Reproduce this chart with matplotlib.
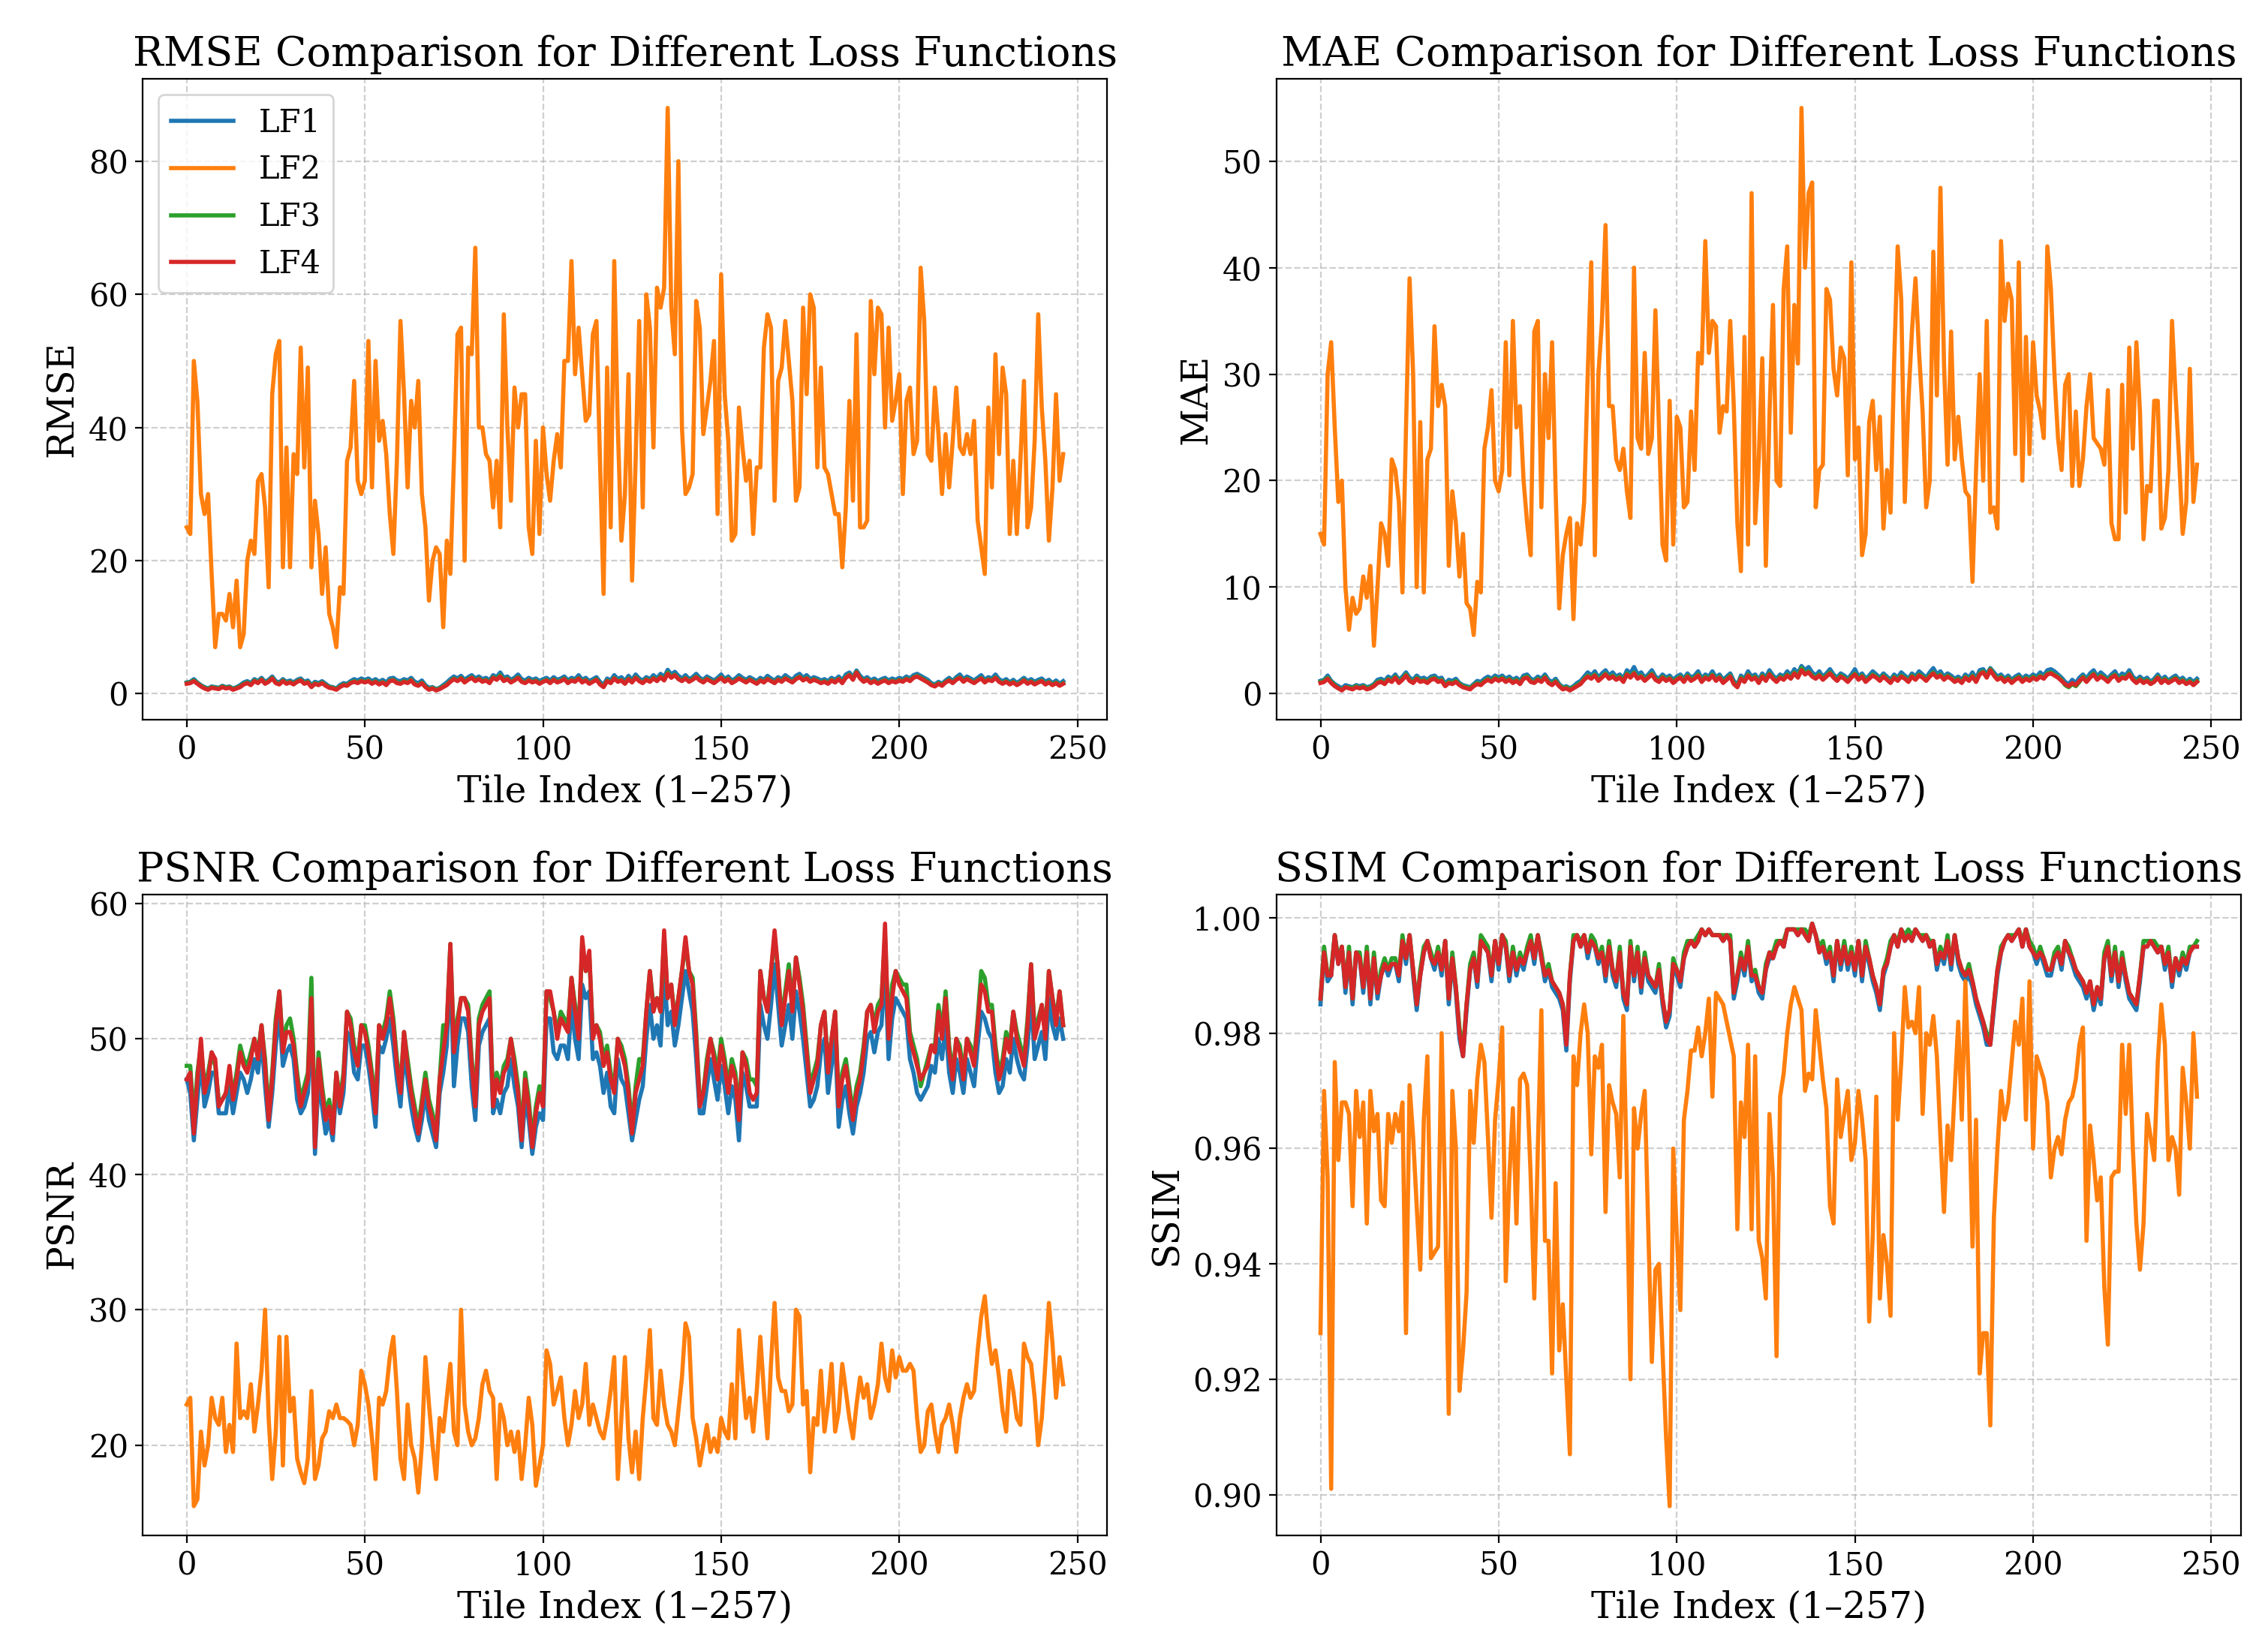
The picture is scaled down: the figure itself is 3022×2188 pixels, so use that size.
import numpy as np
import matplotlib
matplotlib.use('Agg')
import matplotlib.pyplot as plt

# ---- Data: per-tile metrics for the four loss functions ----

labels = ['LF1', 'LF2', 'LF3', 'LF4']
colors = ['tab:blue', 'tab:orange', 'tab:green', 'tab:red']

rmse_lf1 = [
    1.7, 1.8, 2.2, 1.7, 1.3, 1.0, 0.8, 1.1, 1.0, 0.9,
    1.2, 1.0, 1.1, 0.8, 1.0, 1.3, 1.7, 1.9, 1.6, 2.2,
    1.9, 2.4, 1.8, 2.1, 2.6, 1.9, 1.7, 2.2, 1.8, 2.0,
    1.7, 2.1, 2.3, 1.8, 2.0, 1.3, 1.8, 1.6, 1.9, 1.5,
    1.1, 1.0, 0.8, 1.3, 1.6, 1.5, 1.9, 2.2, 2.0, 2.3,
    2.1, 2.3, 1.9, 2.2, 1.8, 2.1, 1.7, 2.3, 2.4, 2.0,
    1.9, 2.2, 2.0, 2.4, 1.8, 1.6, 2.0, 1.3, 0.9, 1.0,
    0.7, 0.9, 1.3, 1.7, 2.2, 2.6, 2.3, 2.7, 2.1, 2.5,
    2.8, 2.3, 2.6, 2.2, 2.4, 2.0, 2.8, 2.5, 3.2, 2.4,
    2.6, 2.1, 2.4, 2.9, 2.2, 2.0, 2.4, 2.1, 2.3, 1.9,
    2.2, 2.4, 2.0, 2.5, 2.1, 2.3, 2.6, 2.0, 2.4, 2.2,
    2.8, 2.1, 2.4, 1.9, 2.2, 2.5, 1.8, 1.3, 2.3, 2.0,
    2.8, 2.2, 2.5, 1.9, 2.7, 2.1, 2.9, 2.3, 2.0, 2.5,
    2.2, 2.8, 2.3, 3.0, 2.5, 3.6, 2.9, 3.3, 2.7, 2.3,
    2.8, 2.2, 2.5, 3.0, 2.4, 2.1, 2.6, 2.3, 2.0, 2.4,
    2.9, 2.2, 2.6, 2.0, 2.3, 2.8, 2.4, 2.1, 2.5, 2.2,
    1.9, 2.4, 2.1, 2.7, 2.3, 2.0, 2.5, 2.2, 2.8, 2.4,
    2.1, 2.7, 3.0, 2.4, 2.8, 2.2, 2.5, 2.3, 2.0, 2.2,
    1.9, 2.4, 2.1, 2.6, 2.0, 2.9, 3.2, 2.5, 3.5, 2.7,
    2.2, 2.5, 2.0, 2.3, 1.9, 2.2, 2.4, 2.0, 2.3, 2.1,
    2.4, 2.2, 2.6, 2.3, 2.8, 3.0, 2.7, 2.4, 2.1, 1.6,
    1.4, 1.8, 1.5, 2.0, 2.4, 1.9, 2.5, 2.9, 2.2, 2.6,
    2.3, 2.0, 2.4, 2.8, 2.1, 2.5, 2.3, 2.9, 2.2, 1.9,
    2.2, 1.7, 2.1, 1.6, 2.0, 2.4, 1.9, 2.2, 1.8, 2.1,
    2.3, 1.8, 2.1, 1.6, 2.0, 1.5, 1.9]

rmse_lf2 = [
    25, 24, 50, 44, 30, 27, 30, 18, 7, 12,
    12, 11, 15, 10, 17, 7, 9, 20, 23, 21,
    32, 33, 28, 16, 45, 51, 53, 19, 37, 19,
    36, 33, 52, 34, 49, 19, 29, 24, 15, 22,
    12, 10, 7, 16, 15, 35, 37, 47, 32, 30,
    32, 53, 31, 50, 38, 41, 36, 27, 21, 35,
    56, 45, 31, 44, 40, 47, 30, 25, 14, 20,
    22, 21, 10, 23, 18, 35, 54, 55, 20, 52,
    51, 67, 40, 40, 36, 35, 28, 35, 25, 57,
    40, 29, 46, 40, 45, 45, 25, 21, 38, 24,
    40, 33, 29, 35, 39, 34, 50, 50, 65, 48,
    55, 48, 41, 42, 54, 56, 35, 15, 49, 25,
    65, 40, 23, 30, 48, 17, 35, 56, 28, 60,
    55, 37, 61, 58, 61, 88, 58, 51, 80, 40,
    30, 31, 33, 59, 55, 39, 43, 47, 53, 27,
    63, 45, 38, 23, 24, 43, 37, 32, 35, 24,
    34, 34, 52, 57, 55, 29, 47, 49, 56, 50,
    44, 29, 31, 58, 45, 60, 58, 34, 49, 34,
    33, 30, 27, 27, 19, 28, 44, 29, 54, 25,
    25, 26, 59, 48, 58, 57, 40, 55, 41, 44,
    48, 30, 44, 46, 36, 38, 64, 56, 36, 35,
    46, 39, 30, 39, 31, 38, 46, 37, 36, 39,
    36, 41, 26, 22, 18, 43, 31, 51, 36, 49,
    45, 24, 35, 24, 35, 47, 25, 28, 38, 57,
    43, 35, 23, 31, 45, 32, 36]

rmse_lf3 = [
    1.6, 1.7, 2.0, 1.6, 1.2, 0.9, 0.7, 1.0, 0.9, 0.8,
    1.1, 0.9, 1.0, 0.7, 0.9, 1.1, 1.5, 1.7, 1.4, 2.0,
    1.7, 2.2, 1.6, 1.9, 2.4, 1.7, 1.5, 2.0, 1.6, 1.8,
    1.5, 1.9, 2.1, 1.6, 1.8, 1.1, 1.6, 1.4, 1.7, 1.3,
    1.0, 0.9, 0.7, 1.1, 1.4, 1.3, 1.7, 1.9, 1.7, 2.0,
    1.8, 2.0, 1.6, 1.9, 1.5, 1.8, 1.4, 2.0, 2.1, 1.7,
    1.6, 1.9, 1.7, 2.1, 1.5, 1.3, 1.7, 1.1, 0.7, 0.9,
    0.6, 0.8, 1.1, 1.4, 1.9, 2.3, 2.0, 2.4, 1.8, 2.2,
    2.5, 2.0, 2.3, 1.9, 2.1, 1.7, 2.5, 2.2, 2.8, 2.0,
    2.3, 1.8, 2.1, 2.5, 1.9, 1.7, 2.1, 1.8, 2.0, 1.6,
    1.9, 2.1, 1.7, 2.2, 1.8, 2.0, 2.3, 1.7, 2.1, 1.9,
    2.4, 1.8, 2.1, 1.6, 1.9, 2.2, 1.5, 1.1, 2.0, 1.7,
    2.4, 1.9, 2.1, 1.6, 2.3, 1.8, 2.5, 2.0, 1.7, 2.2,
    1.9, 2.4, 2.0, 2.6, 2.1, 3.2, 2.5, 2.9, 2.3, 2.0,
    2.4, 1.9, 2.2, 2.6, 2.1, 1.8, 2.3, 2.0, 1.7, 2.1,
    2.5, 1.9, 2.3, 1.7, 2.0, 2.4, 2.1, 1.8, 2.2, 1.9,
    1.6, 2.1, 1.8, 2.3, 2.0, 1.7, 2.2, 1.9, 2.4, 2.1,
    1.8, 2.3, 2.6, 2.1, 2.4, 1.9, 2.2, 2.0, 1.7, 1.9,
    1.6, 2.1, 1.8, 2.3, 1.7, 2.5, 2.9, 2.2, 3.3, 2.4,
    1.9, 2.2, 1.7, 2.0, 1.6, 1.9, 2.1, 1.7, 2.0, 1.8,
    2.1, 1.9, 2.3, 2.0, 2.5, 2.7, 2.4, 2.1, 1.8, 1.4,
    1.2, 1.6, 1.3, 1.8, 2.1, 1.7, 2.2, 2.5, 1.9, 2.3,
    2.0, 1.7, 2.1, 2.4, 1.8, 2.2, 2.0, 2.5, 1.9, 1.6,
    1.9, 1.5, 1.8, 1.4, 1.7, 2.1, 1.6, 1.9, 1.5, 1.8,
    2.0, 1.5, 1.8, 1.4, 1.7, 1.3, 1.6]

rmse_lf4 = [
    1.5, 1.6, 1.9, 1.5, 1.1, 0.8, 0.6, 0.9, 0.8, 0.7,
    1.0, 0.8, 0.9, 0.6, 0.8, 1.0, 1.4, 1.6, 1.3, 1.9,
    1.6, 2.1, 1.5, 1.8, 2.3, 1.6, 1.4, 1.9, 1.5, 1.7,
    1.4, 1.8, 2.0, 1.5, 1.7, 1.0, 1.5, 1.3, 1.6, 1.2,
    0.9, 0.8, 0.6, 1.0, 1.3, 1.2, 1.6, 1.8, 1.6, 1.9,
    1.7, 1.9, 1.5, 1.8, 1.4, 1.7, 1.3, 1.9, 2.0, 1.6,
    1.5, 1.8, 1.6, 2.0, 1.4, 1.2, 1.6, 1.0, 0.6, 0.8,
    0.5, 0.7, 1.0, 1.3, 1.8, 2.2, 1.9, 2.3, 1.7, 2.1,
    2.4, 1.9, 2.2, 1.8, 2.0, 1.6, 2.4, 2.1, 2.6, 1.9,
    2.2, 1.7, 2.0, 2.4, 1.8, 1.6, 2.0, 1.7, 1.9, 1.5,
    1.8, 2.0, 1.6, 2.1, 1.7, 1.9, 2.2, 1.6, 2.0, 1.8,
    2.3, 1.7, 2.0, 1.5, 1.8, 2.1, 1.4, 1.0, 1.9, 1.6,
    2.3, 1.8, 2.0, 1.5, 2.2, 1.7, 2.4, 1.9, 1.6, 2.1,
    1.8, 2.3, 1.9, 2.5, 2.0, 3.0, 2.4, 2.8, 2.2, 1.9,
    2.3, 1.8, 2.1, 2.5, 2.0, 1.7, 2.2, 1.9, 1.6, 2.0,
    2.4, 1.8, 2.2, 1.6, 1.9, 2.3, 2.0, 1.7, 2.1, 1.8,
    1.5, 2.0, 1.7, 2.2, 1.9, 1.6, 2.1, 1.8, 2.3, 2.0,
    1.7, 2.2, 2.5, 2.0, 2.3, 1.8, 2.1, 1.9, 1.6, 1.8,
    1.5, 2.0, 1.7, 2.2, 1.6, 2.4, 2.8, 2.1, 3.2, 2.3,
    1.8, 2.1, 1.6, 1.9, 1.5, 1.8, 2.0, 1.6, 1.9, 1.7,
    2.0, 1.8, 2.2, 1.9, 2.4, 2.6, 2.3, 2.0, 1.7, 1.3,
    1.1, 1.5, 1.2, 1.7, 2.0, 1.6, 2.1, 2.4, 1.8, 2.2,
    1.9, 1.6, 2.0, 2.3, 1.7, 2.1, 1.9, 2.4, 1.8, 1.5,
    1.8, 1.4, 1.7, 1.3, 1.6, 2.0, 1.5, 1.8, 1.4, 1.7,
    1.9, 1.4, 1.7, 1.3, 1.6, 1.2, 1.5]

mae_lf1 = [
    1.2, 1.3, 1.7, 1.2, 0.9, 0.7, 0.5, 0.8, 0.7, 0.6,
    0.8, 0.7, 0.8, 0.6, 0.7, 0.9, 1.3, 1.4, 1.2, 1.6,
    1.4, 1.8, 1.3, 1.6, 2.0, 1.5, 1.3, 1.7, 1.4, 1.5,
    1.3, 1.6, 1.7, 1.4, 1.5, 0.9, 1.3, 1.2, 1.4, 1.0,
    0.8, 0.7, 0.6, 0.9, 1.2, 1.1, 1.4, 1.6, 1.4, 1.7,
    1.5, 1.7, 1.4, 1.6, 1.3, 1.5, 1.2, 1.7, 1.8, 1.4,
    1.3, 1.6, 1.4, 1.8, 1.3, 1.1, 1.4, 0.9, 0.6, 0.7,
    0.5, 0.7, 1.0, 1.2, 1.6, 2.0, 1.7, 2.1, 1.5, 1.9,
    2.2, 1.7, 2.0, 1.6, 1.8, 1.4, 2.2, 1.9, 2.5, 1.8,
    2.0, 1.5, 1.8, 2.2, 1.6, 1.4, 1.8, 1.5, 1.7, 1.3,
    1.6, 1.8, 1.4, 1.9, 1.5, 1.7, 2.1, 1.4, 1.8, 1.6,
    2.1, 1.5, 1.8, 1.3, 1.6, 1.9, 1.2, 0.8, 1.7, 1.4,
    2.1, 1.6, 1.8, 1.3, 1.9, 1.5, 2.2, 1.7, 1.4, 1.8,
    1.6, 2.1, 1.7, 2.3, 1.9, 2.6, 2.2, 2.5, 2.0, 1.7,
    2.1, 1.6, 1.9, 2.3, 1.8, 1.5, 1.9, 1.7, 1.4, 1.8,
    2.3, 1.6, 1.9, 1.4, 1.7, 2.1, 1.8, 1.5, 1.9, 1.6,
    1.3, 1.8, 1.5, 2.0, 1.7, 1.4, 1.9, 1.6, 2.1, 1.8,
    1.5, 2.0, 2.4, 1.8, 2.1, 1.6, 1.9, 1.7, 1.4, 1.6,
    1.3, 1.8, 1.5, 2.0, 1.4, 2.2, 2.3, 1.8, 2.4, 2.0,
    1.6, 1.8, 1.4, 1.7, 1.3, 1.6, 1.8, 1.4, 1.7, 1.5,
    1.8, 1.6, 2.0, 1.7, 2.2, 2.3, 2.1, 1.8, 1.5, 1.1,
    0.9, 1.3, 1.0, 1.5, 1.8, 1.4, 1.9, 2.2, 1.6, 2.0,
    1.7, 1.4, 1.8, 2.1, 1.5, 1.9, 1.7, 2.2, 1.6, 1.3,
    1.6, 1.3, 1.5, 1.1, 1.4, 1.8, 1.3, 1.6, 1.2, 1.5,
    1.7, 1.3, 1.5, 1.1, 1.4, 1.1, 1.4]

mae_lf2 = [
    15, 14, 30, 33, 25, 18, 20, 10, 6, 9,
    7.5, 8, 11, 9, 12, 4.5, 10, 16, 15, 12,
    22, 21, 18, 9.5, 25, 39, 30, 10, 25.5, 9.5,
    22, 23, 34.5, 27, 29, 27, 12, 19, 16, 11,
    15, 8.5, 8, 5.5, 10.5, 9.5, 23, 25, 28.5, 20,
    19, 21, 33, 20.5, 35, 25, 27, 20, 16, 13,
    34, 35, 17.5, 30, 24, 33, 19, 8, 13, 15,
    16.5, 7, 16, 14, 18, 30, 40.5, 13, 30, 35,
    44, 27, 27, 22, 21, 23, 19, 16.5, 40, 24,
    23, 32, 22.5, 24, 36, 25, 14, 12.5, 27.5, 14,
    26, 25, 17.5, 18, 26.5, 21, 32, 31, 42.5, 32,
    35, 34.5, 24.5, 27, 26.5, 35, 27, 16, 11.5, 33.5,
    14, 47, 16, 22, 31.5, 12, 26, 36.5, 20, 19.5,
    38, 42, 24.5, 36.5, 31, 55, 40, 47, 48, 17.5,
    21, 21.5, 38, 37, 30.5, 28, 32.5, 31.5, 20.5, 40.5,
    22, 25, 13, 15, 25.5, 27.5, 21, 26, 15.5, 21,
    17, 31, 42, 37, 18, 27.5, 34, 39, 32, 26.5,
    17.5, 20, 41.5, 28, 47.5, 31, 21.5, 34, 22, 26,
    22, 19, 18.5, 10.5, 21, 30, 20, 35, 17, 17.5,
    15.5, 42.5, 35, 38.5, 37, 22.5, 40.5, 20, 33.5, 22.5,
    33, 28, 26.5, 24, 42, 38, 30, 24, 21, 29,
    30, 19.5, 26.5, 19.5, 22, 27, 30, 24, 23.5, 23,
    21.5, 28.5, 16, 14.5, 14.5, 29, 17, 32.5, 23, 33,
    26.5, 14.5, 19.5, 19, 27.5, 27.5, 15.5, 16.5, 21, 35,
    28, 22, 15, 18, 30.5, 18, 21.5]

mae_lf3 = [
    1.1, 1.2, 1.5, 1.1, 0.8, 0.5, 0.4, 0.6, 0.6, 0.5,
    0.7, 0.5, 0.7, 0.5, 0.6, 0.8, 1.1, 1.2, 1.0, 1.4,
    1.2, 1.6, 1.1, 1.4, 1.8, 1.3, 1.1, 1.5, 1.2, 1.3,
    1.1, 1.4, 1.5, 1.2, 1.3, 0.8, 1.1, 1.0, 1.2, 0.9,
    0.7, 0.6, 0.5, 0.8, 1.0, 0.9, 1.2, 1.4, 1.2, 1.5,
    1.3, 1.5, 1.2, 1.4, 1.1, 1.3, 1.0, 1.5, 1.6, 1.2,
    1.1, 1.4, 1.2, 1.6, 1.1, 0.9, 1.2, 0.8, 0.5, 0.6,
    0.4, 0.6, 0.8, 1.0, 1.4, 1.7, 1.5, 1.8, 1.3, 1.6,
    1.9, 1.5, 1.7, 1.4, 1.6, 1.2, 1.9, 1.6, 2.0, 1.5,
    1.7, 1.3, 1.6, 1.9, 1.4, 1.2, 1.6, 1.3, 1.5, 1.1,
    1.4, 1.6, 1.2, 1.7, 1.3, 1.5, 1.8, 1.2, 1.6, 1.4,
    1.8, 1.3, 1.6, 1.1, 1.4, 1.7, 1.0, 0.7, 1.5, 1.2,
    1.8, 1.4, 1.6, 1.1, 1.7, 1.3, 1.9, 1.5, 1.2, 1.6,
    1.4, 1.8, 1.5, 2.0, 1.6, 2.4, 1.9, 2.1, 1.7, 1.5,
    1.8, 1.4, 1.7, 2.0, 1.6, 1.3, 1.7, 1.5, 1.2, 1.6,
    1.9, 1.4, 1.7, 1.2, 1.5, 1.8, 1.6, 1.3, 1.7, 1.4,
    1.1, 1.6, 1.3, 1.7, 1.5, 1.2, 1.7, 1.4, 1.8, 1.6,
    1.3, 1.7, 2.0, 1.6, 1.8, 1.4, 1.7, 1.5, 1.2, 1.4,
    1.1, 1.6, 1.3, 1.7, 1.2, 1.9, 2.1, 1.6, 2.3, 1.8,
    1.4, 1.6, 1.2, 1.5, 1.1, 1.4, 1.6, 1.2, 1.5, 1.3,
    1.6, 1.4, 1.7, 1.5, 1.9, 2.0, 1.8, 1.6, 1.3, 0.8,
    0.6, 0.9, 0.7, 1.1, 1.6, 1.2, 1.6, 1.9, 1.4, 1.7,
    1.5, 1.2, 1.6, 1.8, 1.3, 1.6, 1.5, 1.9, 1.4, 1.1,
    1.4, 1.1, 1.3, 1.0, 1.2, 1.6, 1.1, 1.4, 1.1, 1.3,
    1.5, 1.1, 1.3, 1.0, 1.2, 0.9, 1.2]

mae_lf4 = [
    1.0, 1.1, 1.4, 1.0, 0.7, 0.5, 0.3, 0.6, 0.5, 0.4,
    0.6, 0.5, 0.6, 0.4, 0.5, 0.7, 1.0, 1.1, 0.9, 1.3,
    1.1, 1.5, 1.0, 1.3, 1.7, 1.2, 1.0, 1.4, 1.1, 1.2,
    1.0, 1.3, 1.4, 1.1, 1.2, 0.7, 1.0, 0.9, 1.1, 0.8,
    0.6, 0.5, 0.4, 0.7, 0.9, 0.8, 1.1, 1.3, 1.1, 1.4,
    1.2, 1.4, 1.1, 1.3, 1.0, 1.2, 0.9, 1.4, 1.5, 1.1,
    1.0, 1.3, 1.1, 1.5, 1.0, 0.8, 1.1, 0.7, 0.4, 0.5,
    0.3, 0.5, 0.7, 0.9, 1.3, 1.6, 1.4, 1.7, 1.2, 1.5,
    1.8, 1.4, 1.6, 1.3, 1.5, 1.1, 1.8, 1.5, 1.9, 1.4,
    1.6, 1.2, 1.5, 1.8, 1.3, 1.1, 1.5, 1.2, 1.4, 1.0,
    1.3, 1.5, 1.1, 1.6, 1.2, 1.4, 1.7, 1.1, 1.5, 1.3,
    1.7, 1.2, 1.5, 1.0, 1.3, 1.6, 0.9, 0.6, 1.4, 1.1,
    1.7, 1.3, 1.5, 1.0, 1.6, 1.2, 1.8, 1.4, 1.1, 1.5,
    1.3, 1.7, 1.4, 1.9, 1.5, 2.2, 1.8, 2.0, 1.6, 1.4,
    1.7, 1.3, 1.6, 1.9, 1.5, 1.2, 1.6, 1.4, 1.1, 1.5,
    1.8, 1.3, 1.6, 1.1, 1.4, 1.7, 1.5, 1.2, 1.6, 1.3,
    1.0, 1.5, 1.2, 1.6, 1.4, 1.1, 1.6, 1.3, 1.7, 1.5,
    1.2, 1.6, 1.9, 1.5, 1.7, 1.3, 1.6, 1.4, 1.1, 1.3,
    1.0, 1.5, 1.2, 1.6, 1.1, 1.8, 2.0, 1.5, 2.2, 1.7,
    1.3, 1.5, 1.1, 1.4, 1.0, 1.3, 1.5, 1.1, 1.4, 1.2,
    1.5, 1.3, 1.6, 1.4, 1.8, 1.9, 1.7, 1.5, 1.2, 0.9,
    0.7, 1.0, 0.8, 1.2, 1.5, 1.1, 1.5, 1.8, 1.3, 1.6,
    1.4, 1.1, 1.5, 1.7, 1.2, 1.5, 1.4, 1.8, 1.3, 1.0,
    1.3, 1.0, 1.2, 0.9, 1.1, 1.5, 1.0, 1.3, 1.0, 1.2,
    1.4, 1.0, 1.2, 0.9, 1.1, 0.8, 1.1]

psnr_lf1 = [
    47, 46, 42.5, 45.5, 48.5, 45, 46, 47.5, 47.5, 44.5,
    44.5, 44.5, 46.5, 44.5, 46, 47.5, 47, 46, 47, 48.5,
    47.5, 50, 46.5, 43.5, 46, 49.5, 52, 48, 49, 49.5,
    48.5, 45.5, 44.5, 45, 46, 51.5, 41.5, 47, 45, 43,
    44, 42.5, 46.5, 44.5, 46, 50.5, 50, 47.5, 47, 49.5,
    49.5, 48, 46, 43.5, 49.5, 49, 50, 51.5, 49.5, 47,
    45, 49, 47, 45, 43.5, 42.5, 44, 46, 44, 43,
    42, 46, 47.5, 49.5, 55.5, 46.5, 49.5, 51.5, 51.5, 50.5,
    46.5, 44, 49.5, 50.5, 51, 51.5, 44.5, 45.5, 44.5, 46,
    46.5, 48.5, 46.5, 45, 42, 45.5, 44, 41.5, 43.5, 44.5,
    44, 51.5, 51.5, 49, 48.5, 49.5, 49.5, 48.5, 52.5, 50,
    48.5, 54, 53, 53.5, 48.5, 49, 48, 46, 47.5, 45,
    44.5, 48.5, 47, 46.5, 44.5, 42.5, 44, 45.5, 46.5, 50,
    52.5, 50, 51, 49.5, 55, 51, 52, 49.5, 51, 53,
    55, 53.5, 52, 48.5, 44.5, 44.5, 46.5, 48.5, 47, 45.5,
    48, 46.5, 44.5, 46.5, 45.5, 42.5, 47.5, 46.5, 45, 45,
    45, 52.5, 51, 50, 52.5, 55.5, 52.5, 49.5, 51, 52.5,
    50, 53.5, 52, 50, 47.5, 45, 45.5, 46.5, 49, 50,
    46, 48, 50, 43.5, 45.5, 46.5, 44.5, 43, 45, 46,
    47.5, 50, 50.5, 49, 50.5, 51, 55.5, 48.5, 51.5, 53,
    52.5, 52, 51.5, 48.5, 47.5, 46, 45.5, 46, 46.5, 48,
    47.5, 50, 48.5, 51, 47.5, 46, 48.5, 47.5, 46, 48.5,
    47.5, 46.5, 49.5, 52, 51.5, 50.5, 50, 47.5, 46, 46.5,
    48.5, 47.5, 50, 48.5, 47.5, 47, 49.5, 53, 48.5, 49.5,
    50.5, 48.5, 53, 51, 50, 51.5, 50]

psnr_lf2 = [
    23, 23.5, 15.5, 16, 21, 18.5, 20, 23.5, 22, 21.5,
    23.5, 19.5, 21.5, 19.5, 27.5, 22, 22.5, 22, 24.5, 21,
    23, 25.5, 30, 22, 17.5, 21, 28, 18.5, 28, 22.5,
    23.5, 19, 18, 17.2, 19, 24, 17.5, 18.5, 20.5, 21,
    22.5, 22, 23, 22, 22, 21.8, 21.5, 20, 21.5, 25.5,
    24.5, 23, 20.5, 17.5, 23.5, 23, 24, 26.5, 28, 24,
    19, 17.5, 23, 20, 19, 16.5, 20, 26.5, 23, 20,
    17.5, 22, 21, 23.5, 26, 21, 20, 30, 23, 21,
    20, 20.5, 22, 24.5, 25.5, 24, 23.5, 17.5, 23, 22,
    20, 21, 19.5, 21, 17.5, 20, 23.5, 21.5, 17, 18.5,
    20, 27, 26, 23, 24, 25, 22, 20, 21.5, 24,
    22, 23, 26, 21.5, 23, 22, 21, 20.5, 22, 24,
    26.5, 17.5, 22, 26.5, 20.5, 18, 21, 17.5, 22, 25,
    28.5, 22, 21.5, 25.5, 23, 21.5, 21, 20, 22.5, 25,
    29, 28, 22, 20.5, 18.5, 20, 21.5, 19.5, 20.5, 19.5,
    22, 21, 20.5, 24.5, 20.5, 28.5, 25, 22, 23.5, 21,
    24, 28, 24, 20.5, 26, 30.5, 25, 24, 24, 22.5,
    23, 30, 29.5, 23, 24, 18, 22, 21.5, 25.5, 21,
    23, 26, 21, 22.5, 26, 24, 22, 20.5, 23, 25,
    23.5, 24.5, 22, 23, 24.5, 27.5, 25, 24, 27, 25,
    26.5, 25.5, 25.5, 26, 25.5, 22, 19.5, 20, 22.5, 23,
    21, 19.5, 21.5, 22, 23, 21.5, 19.5, 22, 23.5, 24.5,
    23.5, 24, 27, 29.5, 31, 28, 26, 27, 25, 22.5,
    21, 25.5, 24, 22, 21.5, 27.5, 26.5, 26, 23.5, 20,
    22, 26, 30.5, 27.5, 23.5, 26.5, 24.5]

psnr_lf3 = [
    48, 48, 44, 47.5, 49.5, 46.5, 47.5, 49, 48, 45.5,
    45.5, 46, 47.5, 46, 47.5, 49.5, 48.5, 48, 49, 50,
    49, 51, 48.5, 44.5, 47.5, 51.5, 53.5, 49.5, 51, 51.5,
    50, 47.5, 45.5, 46.5, 47.5, 54.5, 43, 49, 46.5, 44.5,
    45.5, 43.5, 47.5, 45.5, 47.5, 52, 51.5, 49.5, 48.5, 51,
    51, 49.5, 47.5, 45, 51, 50.5, 51.5, 53.5, 51.5, 48.5,
    46.5, 50.5, 48.5, 46.5, 45, 43.5, 45.5, 47.5, 45.5, 44.5,
    43, 47, 51, 51, 57, 49.5, 51.5, 53, 53, 52.5,
    48.5, 45.5, 51.5, 52.5, 53, 53.5, 45.5, 47.5, 46.5, 48,
    48.5, 50, 48.5, 46.5, 43, 47.5, 45.5, 42.5, 45, 46.5,
    45.5, 53.5, 53, 52, 50.5, 52, 51.5, 51, 54.5, 52.5,
    50.5, 57, 55, 56, 50.5, 51, 50.5, 48.5, 49.5, 47.5,
    46.5, 50, 49.5, 48.5, 46.5, 43.5, 46.5, 48.5, 48.5, 52,
    55, 52.5, 53, 52, 57.5, 53, 54, 51.5, 53, 55,
    57, 55, 54.5, 50.5, 45.5, 46, 48.5, 50, 49, 47.5,
    50, 48.5, 46.5, 48.5, 47.5, 44.5, 49, 48.5, 47, 47,
    46.5, 55, 53, 52.5, 55, 57.5, 55, 51.5, 53.5, 55.5,
    52.5, 56, 54.5, 52.5, 49.5, 46.5, 47.5, 48.5, 51, 52,
    48, 50, 52, 45.5, 47.5, 48.5, 46.5, 44.5, 46.5, 47.5,
    49.5, 52, 52.5, 51, 52.5, 53, 57.5, 50.5, 54, 55,
    54.5, 54, 54, 50.5, 49.5, 48.5, 46.5, 47.5, 48.5, 49.5,
    49.5, 52.5, 50.5, 53.5, 49.5, 47.5, 50, 49.5, 47.5, 50,
    49.5, 48.5, 51.5, 55, 54.5, 52.5, 52.5, 49.5, 47.5, 48.5,
    50.5, 49.5, 52, 50.5, 49.5, 48.5, 51.5, 55.5, 50.5, 51.5,
    52.5, 50.5, 55, 53, 51.5, 53.5, 51]

psnr_lf4 = [
    47, 47.5, 43, 47, 50, 46, 47, 49, 48.5, 45,
    45.5, 46, 48, 45.5, 47, 49, 48, 47.5, 48.5, 50,
    48.5, 51, 48, 44, 47, 51, 53.5, 49, 50.5, 50.5,
    49.5, 47, 45, 46, 47, 53, 42, 48.5, 46, 44,
    45, 43, 47.5, 45, 47, 52, 51, 49, 48, 51,
    50.5, 49, 47, 44.5, 51, 50, 51, 53, 51, 48,
    46, 50.5, 48, 46, 44.5, 43, 45, 47, 45, 44,
    42.5, 47, 49, 51, 57, 49, 51, 53, 53, 52,
    48, 45, 51, 52, 52.5, 53, 45, 47, 46, 47.5,
    48, 50, 48, 46, 42.5, 47, 45, 42, 44.5, 46,
    45, 53.5, 53.5, 52, 50, 51.5, 51, 50.5, 54.5, 52,
    50, 57.5, 55, 56.5, 50, 51, 50, 48, 49, 47,
    46, 50, 49, 48, 46, 43, 46, 47, 48, 52,
    55, 52, 53, 52, 58, 53, 54, 51, 53, 55,
    57.5, 55, 54, 50, 45, 46, 48, 50, 48.5, 47,
    49.5, 48, 46, 48, 47, 44, 49, 48, 46, 45.5,
    46, 55, 53, 52, 55, 58, 55, 51, 53, 55,
    52, 56, 54, 52, 49, 46, 47, 48, 51, 52,
    47.5, 50, 52, 45, 47, 48, 46, 44, 46, 47,
    49, 52, 52.5, 50.5, 52, 52.5, 58.5, 50, 53, 55,
    54, 53.5, 53, 50, 49, 48, 47, 47.5, 48, 49.5,
    49, 52, 50, 53, 49, 47, 50, 49, 47, 50,
    49, 48, 51, 54, 53.5, 52, 52, 49, 47, 48,
    50, 49, 52, 50, 49, 48, 51, 55.5, 50, 51,
    52.5, 50, 55, 53, 51, 53.5, 51]

ssim_lf1 = [
    .985, .994, .989, .990, .997, .992, .995, .987, .994, .985,
    .994, .993, .987, .994, .985, .993, .986, .990, .992, .990,
    .992, .992, .989, .996, .992, .997, .990, .984, .990, .994,
    .996, .993, .991, .994, .990, .996, .985, .993, .987, .979,
    .976, .984, .991, .993, .988, .996, .995, .994, .989, .996,
    .991, .997, .995, .989, .994, .990, .993, .991, .994, .996,
    .992, .997, .993, .989, .991, .988, .987, .986, .984, .977,
    .989, .996, .997, .995, .997, .993, .996, .995, .992, .994,
    .989, .995, .990, .988, .994, .986, .984, .995, .989, .994,
    .987, .993, .989, .988, .987, .991, .985, .981, .983, .992,
    .990, .988, .993, .995, .996, .995, .996, .998, .997, .998,
    .997, .997, .997, .996, .997, .996, .986, .989, .993, .990,
    .995, .989, .990, .987, .986, .991, .993, .993, .995, .996,
    .995, .998, .998, .998, .997, .998, .997, .996, .999, .997,
    .994, .995, .992, .994, .989, .996, .991, .995, .991, .994,
    .990, .996, .989, .995, .992, .989, .987, .984, .990, .992,
    .995, .997, .995, .998, .996, .997, .996, .998, .997, .996,
    .997, .995, .996, .991, .994, .992, .996, .991, .997, .992,
    .990, .989, .990, .988, .985, .983, .981, .978, .978, .984,
    .990, .994, .996, .997, .996, .997, .998, .995, .998, .995,
    .994, .992, .994, .992, .990, .990, .993, .994, .991, .996,
    .994, .992, .990, .989, .988, .986, .988, .984, .987, .985,
    .993, .995, .989, .994, .988, .993, .989, .986, .985, .984,
    .989, .995, .995, .996, .995, .994, .995, .991, .994, .988,
    .993, .990, .993, .991, .994, .995, .995]

ssim_lf2 = [
    .928, .970, .955, .901, .975, .958, .968, .968, .966, .950,
    .970, .962, .968, .947, .970, .963, .966, .951, .950, .966,
    .961, .966, .963, .968, .928, .971, .962, .950, .939, .965,
    .976, .941, .942, .943, .980, .950, .914, .970, .960, .918,
    .925, .935, .970, .961, .972, .978, .975, .962, .948, .965,
    .972, .981, .937, .955, .967, .947, .972, .973, .971, .955,
    .934, .960, .984, .944, .944, .921, .954, .925, .933, .920,
    .907, .976, .971, .980, .985, .980, .959, .976, .974, .978,
    .949, .971, .968, .966, .955, .983, .955, .920, .967, .960,
    .966, .970, .946, .923, .939, .940, .925, .910, .898, .960,
    .945, .932, .965, .970, .977, .977, .981, .976, .980, .986,
    .969, .987, .986, .985, .982, .979, .976, .946, .968, .962,
    .978, .946, .976, .944, .941, .934, .966, .955, .924, .969,
    .973, .980, .985, .988, .986, .984, .970, .973, .972, .984,
    .978, .972, .967, .950, .947, .972, .962, .966, .970, .958,
    .961, .970, .965, .958, .930, .945, .969, .934, .945, .940,
    .931, .980, .965, .975, .988, .981, .982, .980, .988, .966,
    .980, .978, .983, .976, .962, .949, .964, .958, .970, .982,
    .965, .989, .970, .943, .965, .921, .928, .928, .912, .948,
    .960, .970, .965, .968, .975, .982, .978, .986, .965, .989,
    .960, .976, .974, .972, .968, .955, .960, .962, .959, .965,
    .968, .969, .972, .978, .981, .944, .964, .958, .951, .955,
    .936, .926, .955, .956, .956, .978, .966, .978, .960, .947,
    .939, .947, .966, .962, .958, .975, .985, .978, .958, .962,
    .960, .952, .974, .968, .960, .980, .969]

ssim_lf3 = [
    .986, .995, .990, .991, .997, .993, .995, .988, .995, .986,
    .994, .994, .988, .995, .986, .994, .987, .991, .993, .991,
    .993, .993, .990, .997, .993, .997, .991, .985, .991, .995,
    .996, .994, .992, .995, .991, .996, .986, .994, .988, .981,
    .977, .985, .992, .994, .989, .997, .996, .995, .990, .996,
    .992, .997, .996, .990, .995, .991, .994, .992, .995, .997,
    .993, .997, .994, .990, .992, .989, .988, .987, .985, .979,
    .990, .997, .997, .996, .997, .994, .997, .996, .993, .995,
    .990, .996, .991, .989, .995, .987, .985, .996, .990, .995,
    .988, .994, .990, .989, .988, .992, .986, .982, .984, .993,
    .991, .989, .994, .996, .996, .996, .997, .998, .997, .998,
    .997, .997, .997, .997, .997, .997, .987, .990, .994, .991,
    .996, .990, .991, .988, .987, .992, .994, .994, .996, .996,
    .996, .998, .998, .998, .998, .998, .998, .997, .999, .997,
    .995, .996, .993, .995, .990, .996, .992, .996, .992, .995,
    .991, .996, .990, .996, .993, .990, .988, .985, .991, .993,
    .996, .997, .996, .998, .997, .998, .997, .998, .997, .997,
    .997, .996, .996, .992, .995, .993, .997, .992, .997, .993,
    .991, .990, .992, .989, .986, .984, .982, .980, .979, .985,
    .991, .995, .996, .997, .997, .997, .998, .996, .998, .996,
    .995, .993, .995, .993, .991, .991, .994, .995, .992, .996,
    .995, .993, .991, .990, .989, .987, .989, .985, .988, .986,
    .994, .996, .990, .995, .989, .994, .990, .987, .986, .985,
    .990, .996, .996, .996, .996, .995, .995, .992, .995, .989,
    .993, .991, .994, .992, .995, .995, .996]

ssim_lf4 = [
    .986, .994, .990, .990, .997, .992, .995, .988, .994, .986,
    .994, .993, .988, .994, .986, .993, .987, .990, .992, .991,
    .992, .992, .990, .996, .993, .997, .991, .985, .990, .994,
    .996, .993, .992, .994, .991, .996, .986, .993, .988, .980,
    .976, .985, .991, .993, .989, .996, .995, .994, .990, .996,
    .992, .997, .995, .990, .994, .991, .993, .992, .994, .996,
    .993, .997, .993, .990, .991, .989, .988, .987, .985, .978,
    .990, .996, .997, .995, .997, .994, .996, .995, .993, .994,
    .990, .995, .991, .989, .994, .987, .985, .995, .990, .994,
    .988, .993, .990, .989, .988, .991, .986, .982, .984, .992,
    .991, .989, .993, .995, .996, .995, .996, .998, .997, .998,
    .997, .997, .997, .996, .997, .996, .987, .990, .993, .991,
    .995, .990, .990, .988, .987, .991, .994, .993, .995, .996,
    .995, .998, .998, .998, .997, .998, .997, .996, .999, .997,
    .994, .995, .993, .994, .990, .996, .992, .995, .992, .994,
    .991, .996, .990, .995, .993, .990, .988, .985, .991, .992,
    .995, .997, .995, .998, .996, .997, .996, .998, .997, .996,
    .997, .995, .996, .992, .994, .993, .996, .992, .997, .993,
    .991, .990, .991, .989, .986, .984, .982, .979, .978, .985,
    .991, .994, .996, .997, .996, .997, .998, .995, .998, .995,
    .994, .993, .994, .993, .991, .991, .993, .994, .992, .996,
    .994, .993, .991, .990, .989, .987, .989, .985, .988, .986,
    .993, .995, .990, .994, .989, .993, .990, .987, .986, .985,
    .990, .995, .995, .996, .995, .994, .995, .992, .994, .989,
    .993, .991, .993, .992, .994, .995, .995]


# ---- Function to draw one metric panel ----

def plot_metric(ax, series, metric, legend=False):
    for values, label, color in zip(series, labels, colors):
        x = np.arange(len(values))
        ax.plot(x, values, color=color, label=label, linewidth=2.0)

    ax.set_title(f'{metric} Comparison for Different Loss Functions', fontsize=19.5)
    ax.set_xlabel('Tile Index (1\u2013257)', fontsize=17.5)
    ax.set_ylabel(metric, fontsize=17.5)
    ax.tick_params(labelsize=15)
    ax.set_xticks([0, 50, 100, 150, 200, 250])
    ax.grid(True, linestyle='--', alpha=0.6)
    if legend:
        ax.legend(loc='upper left', fontsize=15)


plt.rcParams['font.family'] = ['DejaVu Serif']

fig, axes = plt.subplots(2, 2, figsize=(15.11, 10.94), dpi=200)
fig.subplots_adjust(left=0.063, right=0.988, top=0.952, bottom=0.065,
                    wspace=0.176, hspace=0.273)

plot_metric(axes[0, 0], [rmse_lf1, rmse_lf2, rmse_lf3, rmse_lf4], 'RMSE', legend=True)
plot_metric(axes[0, 1], [mae_lf1, mae_lf2, mae_lf3, mae_lf4], 'MAE')
plot_metric(axes[1, 0], [psnr_lf1, psnr_lf2, psnr_lf3, psnr_lf4], 'PSNR')
plot_metric(axes[1, 1], [ssim_lf1, ssim_lf2, ssim_lf3, ssim_lf4], 'SSIM')
axes[1, 1].set_yticks([0.90, 0.92, 0.94, 0.96, 0.98, 1.00])

fig.savefig('out.png', dpi=200)
